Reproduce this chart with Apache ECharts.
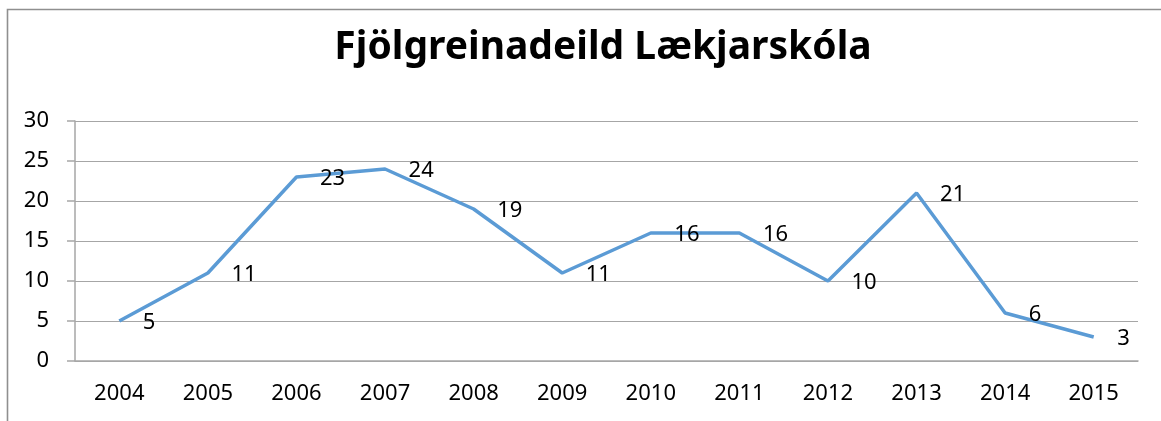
<!DOCTYPE html>
<html>
<head>
<meta charset="utf-8">
<script src="https://cdn.jsdelivr.net/npm/echarts@6/dist/echarts.min.js"></script>
<style>
  html, body { margin: 0; padding: 0; background: #fff; }
  #main { width: 1161px; height: 421px; }
</style>
</head>
<body>
<div id="main"></div>
<script>
var years = ['2004', '2005', '2006', '2007', '2008', '2009', '2010', '2011', '2012', '2013', '2014', '2015'];
var values = [5, 11, 23, 24, 19, 11, 16, 16, 10, 21, 6, 3];
var titleText = 'Fjölgreinadeild Lækjarskóla';

var myChart = echarts.init(document.getElementById('main'));
var option = {
	animation: false,
	textStyle: { fontFamily: 'Noto Sans' },
	title: {
		text: titleText,
		left: 598,
		top: 23,
		textAlign: 'center',
		textStyle: {
			fontFamily: 'Noto Sans',
			fontSize: 39,
			fontWeight: 'bold',
			color: '#000'
		}
	},
	// 外框
	graphic: [{
		type: 'rect',
		shape: { x: 7.5, y: 9.5, width: 1200, height: 500 },
		style: { fill: 'none', stroke: '#8f8f8f', lineWidth: 1.6 },
		silent: true
	}],
	grid: {
		left: 75,
		right: 23,
		top: 121,
		bottom: 60
	},
	xAxis: {
		type: 'category',
		data: years,
		axisLine: { lineStyle: { color: '#a6a6a6', width: 1.5 } },
		axisTick: { length: 8, lineStyle: { color: '#a6a6a6', width: 1.5 } },
		axisLabel: { color: '#000', fontSize: 22, margin: 22 }
	},
	yAxis: {
		type: 'value',
		min: 0,
		max: 30,
		interval: 5,
		axisLine: { show: true, lineStyle: { color: '#a6a6a6', width: 1.5 } },
		axisTick: { show: true, length: 8, lineStyle: { color: '#a6a6a6', width: 1.5 } },
		axisLabel: { color: '#000', fontSize: 22, margin: 26 },
		splitLine: { lineStyle: { color: '#a6a6a6', width: 1.2 } }
	},
	series: [{
		type: 'line',
		data: values,
		symbol: 'circle',
		symbolSize: 1,
		showSymbol: true,
		itemStyle: { color: 'rgba(91,155,213,0)' },
		lineStyle: { color: '#5b9bd5', width: 3.5 },
		label: {
			show: true,
			position: 'right',
			distance: 23,
			offset: [0, 2],
			color: '#000',
			fontSize: 22,
			fontFamily: 'Noto Sans'
		}
	}]
};
myChart.setOption(option);
</script>
</body>
</html>
